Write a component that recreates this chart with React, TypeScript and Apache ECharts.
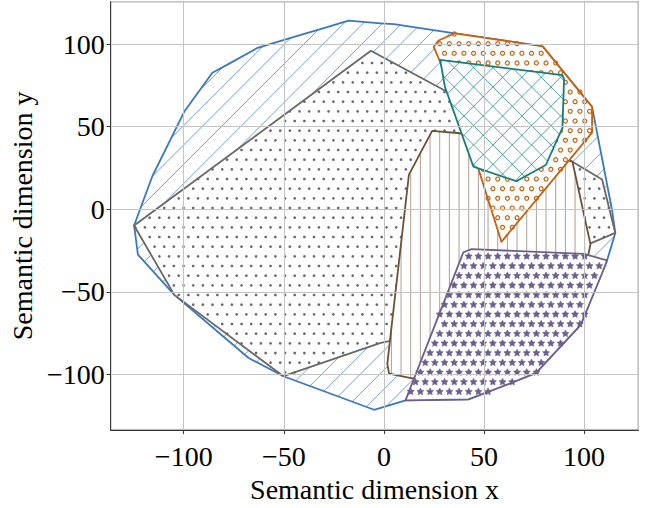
import React, { useEffect, useRef } from "react";
import * as echarts from "echarts";

// ---- data ----
const xRange = [-136.5, 127.1];
const yRange = [-133.6, 125.6];

const blueRegion: number[][] = [
  [-124.8, -9.8], [-115.7, 20], [-99.8, 59], [-85.7, 82.6], [-77.5, 88], [-63.1, 97.7],
  [-44.5, 104.5], [-30.4, 109.4], [-17.7, 114.1], [-1.6, 112.5], [5, 112], [35.5, 106.5],
  [79.3, 98.6], [104, 62], [114, -0.6], [115.6, -14.3], [111.5, -30.9], [98.3, -70],
  [76, -99], [42.2, -115], [10.8, -115.6], [-4.9, -121.3], [-50.2, -101], [-67.6, -90],
  [-104.7, -51.8], [-122.9, -27.4],
];
const grayRegion: number[][] = [
  [-124.8, -9.8], [-6.5, 95.9], [29, 72.8], [94.2, 28.8], [109, 18], [115.6, -14.3],
  [102.4, -21.1], [2.6, -79.8], [-1.6, -80.8], [-50.2, -101], [-104.7, -51.8],
];
const brownRegion: number[][] = [
  [24.1, 47.4], [38, 46], [94.2, 28.8], [103.2, -21.1], [100, -40], [60, -95],
  [14.1, -102.3], [2.6, -99.4], [1.7, -93.5], [12.5, 21],
];
const orangeRegion: number[][] = [
  [24.9, 98.3], [27.3, 102.1], [35.5, 106.5], [79.3, 98.6], [104, 62], [104, 46.4],
  [58.7, -19.7], [47.1, 24.9], [28.5, 88],
];
const tealRegion: number[][] = [
  [28.1, 90.4], [89.2, 81.2], [90, 78.7], [89.2, 49.3], [80.9, 26.8], [66.1, 17],
  [44.7, 25.8], [30.5, 74],
];
const purpleRegion: number[][] = [
  [39.7, -26], [43.8, -24.1], [99.9, -27], [111.5, -30.9], [109, -38.7], [98.3, -70],
  [76, -99], [65.3, -104.3], [42.2, -115], [10.8, -115.6],
];

const FONT = "Liberation Serif";
const LINE_STEP = 19.33; // hatch spacing for diagonal lines (px)
const SHAPE_STEP = 9.667; // hatch spacing for vertical lines and shapes (px)
const PHASE_X = 4.7;
const PHASE_Y = 5.0;

type P = number[];

function cross(ax: number, ay: number, bx: number, by: number) {
  return ax * by - ay * bx;
}

// intersect the infinite line p0 + t*d with polygon, return inside segments
function clipLine(poly: P[], p0: P, d: P): P[][] {
  const ts: number[] = [];
  for (let i = 0; i < poly.length; i++) {
    const a = poly[i];
    const b = poly[(i + 1) % poly.length];
    const ex = b[0] - a[0];
    const ey = b[1] - a[1];
    const den = cross(d[0], d[1], ex, ey);
    if (Math.abs(den) < 1e-9) continue;
    const wx = a[0] - p0[0];
    const wy = a[1] - p0[1];
    const t = cross(wx, wy, ex, ey) / den;
    const u = cross(wx, wy, d[0], d[1]) / den;
    if (u >= 0 && u < 1) ts.push(t);
  }
  ts.sort((m, n) => m - n);
  const out: P[][] = [];
  for (let k = 0; k + 1 < ts.length; k += 2) {
    out.push([
      [p0[0] + ts[k] * d[0], p0[1] + ts[k] * d[1]],
      [p0[0] + ts[k + 1] * d[0], p0[1] + ts[k + 1] * d[1]],
    ]);
  }
  return out;
}

function inside(poly: P[], x: number, y: number) {
  let c = false;
  for (let i = 0, j = poly.length - 1; i < poly.length; j = i++) {
    const a = poly[i];
    const b = poly[j];
    if (a[1] > y !== b[1] > y && x < ((b[0] - a[0]) * (y - a[1])) / (b[1] - a[1]) + a[0]) c = !c;
  }
  return c;
}

function hatch(poly: P[], kind: string, color: string, z2: number): any[] {
  const xs = poly.map((p) => p[0]);
  const ys = poly.map((p) => p[1]);
  const minX = Math.min(...xs), maxX = Math.max(...xs);
  const minY = Math.min(...ys), maxY = Math.max(...ys);
  const els: any[] = [];
  const addLines = (p0s: P[], d: P, style: any) => {
    p0s.forEach((p0) => {
      clipLine(poly, p0, d).forEach((s) => {
        els.push({
          type: "line",
          z2,
          silent: true,
          shape: { x1: s[0][0], y1: s[0][1], x2: s[1][0], y2: s[1][1] },
          style,
        });
      });
    });
  };
  const diagStyle = { stroke: color, lineWidth: 0.9, opacity: 0.8 };
  if (kind === "/" || kind === "x") {
    // x + y = c  (rising to the right)
    const p0s: P[] = [];
    const c0 = Math.floor((minX + minY) / LINE_STEP) * LINE_STEP;
    for (let c = c0; c <= maxX + maxY + LINE_STEP; c += LINE_STEP) p0s.push([c, 0]);
    addLines(p0s, [-1, 1], diagStyle);
  }
  if (kind === "x") {
    // x - y = c
    const p0s: P[] = [];
    const c0 = Math.floor((minX - maxY) / LINE_STEP) * LINE_STEP;
    for (let c = c0; c <= maxX - minY + LINE_STEP; c += LINE_STEP) p0s.push([c, 0]);
    addLines(p0s, [1, 1], diagStyle);
  }
  if (kind === "|") {
    const p0s: P[] = [];
    const k0 = Math.floor((minX - PHASE_X) / SHAPE_STEP);
    for (let k = k0; PHASE_X + k * SHAPE_STEP <= maxX + 1; k++) p0s.push([PHASE_X + k * SHAPE_STEP, 0]);
    addLines(p0s, [0, 1], { stroke: color, lineWidth: 1, opacity: 0.55 });
  }
  if (kind === "." || kind === "o" || kind === "*") {
    const i0 = Math.floor((minY - PHASE_Y) / SHAPE_STEP) - 1;
    const i1 = Math.ceil((maxY - PHASE_Y) / SHAPE_STEP) + 1;
    for (let i = i0; i <= i1; i++) {
      const y = PHASE_Y + i * SHAPE_STEP;
      const off = Math.abs(i) % 2 === 0 ? 0 : SHAPE_STEP / 2;
      const j0 = Math.floor((minX - PHASE_X) / SHAPE_STEP) - 1;
      const j1 = Math.ceil((maxX - PHASE_X) / SHAPE_STEP) + 1;
      for (let j = j0; j <= j1; j++) {
        const x = PHASE_X + j * SHAPE_STEP + off;
        if (!inside(poly, x, y)) continue;
        if (kind === ".") {
          els.push({ type: "circle", z2, silent: true, shape: { cx: x, cy: y, r: 1.35 }, style: { fill: color } });
        } else if (kind === "o") {
          els.push({
            type: "circle", z2, silent: true,
            shape: { cx: x, cy: y, r: 2.0 },
            style: { fill: "none", stroke: color, lineWidth: 1.2 },
          });
        } else {
          const R = 3.7;
          const r = R * 0.5;
          const pts: P[] = [];
          for (let k = 0; k < 10; k++) {
            const a = -Math.PI / 2 + (k * Math.PI) / 5;
            const rr = k % 2 === 0 ? R : r;
            pts.push([x + rr * Math.cos(a), y + rr * Math.sin(a)]);
          }
          els.push({
            type: "polygon", z2, silent: true,
            shape: { points: pts },
            style: { fill: color, stroke: color, lineWidth: 0.6, lineJoin: "round" },
          });
        }
      }
    }
  }
  return els;
}

const minus = (v: number) => (v < 0 ? "\u2212" + Math.abs(v) : String(v));

export default function App() {
  const ref = useRef<HTMLDivElement>(null);
  useEffect(() => {
    if (!ref.current) return;
    const chart = echarts.init(ref.current, undefined, { renderer: "svg" });
    const regions = [
      { pts: blueRegion, color: "#3b78be", kind: "/" },
      { pts: grayRegion, color: "#686868", kind: "." },
      { pts: brownRegion, color: "#6e5034", kind: "|" },
      { pts: orangeRegion, color: "#c4620f", kind: "o" },
      { pts: tealRegion, color: "#127e7e", kind: "x" },
      { pts: purpleRegion, color: "#6e5f8a", kind: "*" },
    ];
    const series = regions.map((r, i) => ({
      type: "custom",
      coordinateSystem: "cartesian2d",
      data: r.pts,
      encode: { x: 0, y: 1 },
      z: 1,
      silent: true,
      clip: false,
      renderItem: (params: any, api: any) => {
        if (params.dataIndex !== 0) return null;
        const px: P[] = r.pts.map((p) => api.coord(p));
        const base = i * 10;
        return {
          type: "group",
          children: [
            { type: "polygon", z2: base, silent: true, shape: { points: px }, style: { fill: "#ffffff" } },
            ...hatch(px, r.kind, r.color, base + 1),
            {
              type: "polygon",
              z2: base + 2,
              silent: true,
              shape: { points: px },
              style: { fill: "none", stroke: r.color, lineWidth: 1.8, lineJoin: "round" },
            },
          ],
        };
      },
    }));
    const axisCommon = {
      type: "value",
      z: 3,
      splitNumber: 5,
      axisLine: { show: true, onZero: false, lineStyle: { color: "#3a3a3a", width: 1 } },
      axisTick: { show: true, inside: false, length: 4, lineStyle: { color: "#3a3a3a" } },
      splitLine: { show: true, lineStyle: { color: "#c4c4c4", width: 1 } },
      nameLocation: "middle",
      nameTextStyle: { fontFamily: FONT, fontSize: 28, color: "#000" },
    };
    chart.setOption({
      animation: false,
      grid: {
        left: 105.7,
        right: 9.7,
        top: 1.7,
        bottom: 64.7,
        show: true,
        borderColor: "#3a3a3a",
        borderWidth: 1,
        backgroundColor: "transparent",
      },
      xAxis: {
        ...axisCommon,
        min: xRange[0],
        max: xRange[1],
        name: "Semantic dimension x",
        nameGap: 38,
        axisLabel: {
          fontFamily: FONT,
          fontSize: 28,
          color: "#000",
          margin: 12,
          showMinLabel: false,
          showMaxLabel: false,
          formatter: minus,
        },
      },
      yAxis: {
        ...axisCommon,
        min: yRange[0],
        max: yRange[1],
        name: "Semantic dimension y",
        nameGap: 68,
        axisLabel: {
          fontFamily: FONT,
          fontSize: 28,
          color: "#000",
          margin: 6,
          showMinLabel: false,
          showMaxLabel: false,
          formatter: minus,
        },
      },
      series,
    });
    return () => chart.dispose();
  }, []);
  return (
    <div
      ref={ref}
      style={{ position: "absolute", left: 0, top: 0, width: 648, height: 508, background: "#fff" }}
    />
  );
}
